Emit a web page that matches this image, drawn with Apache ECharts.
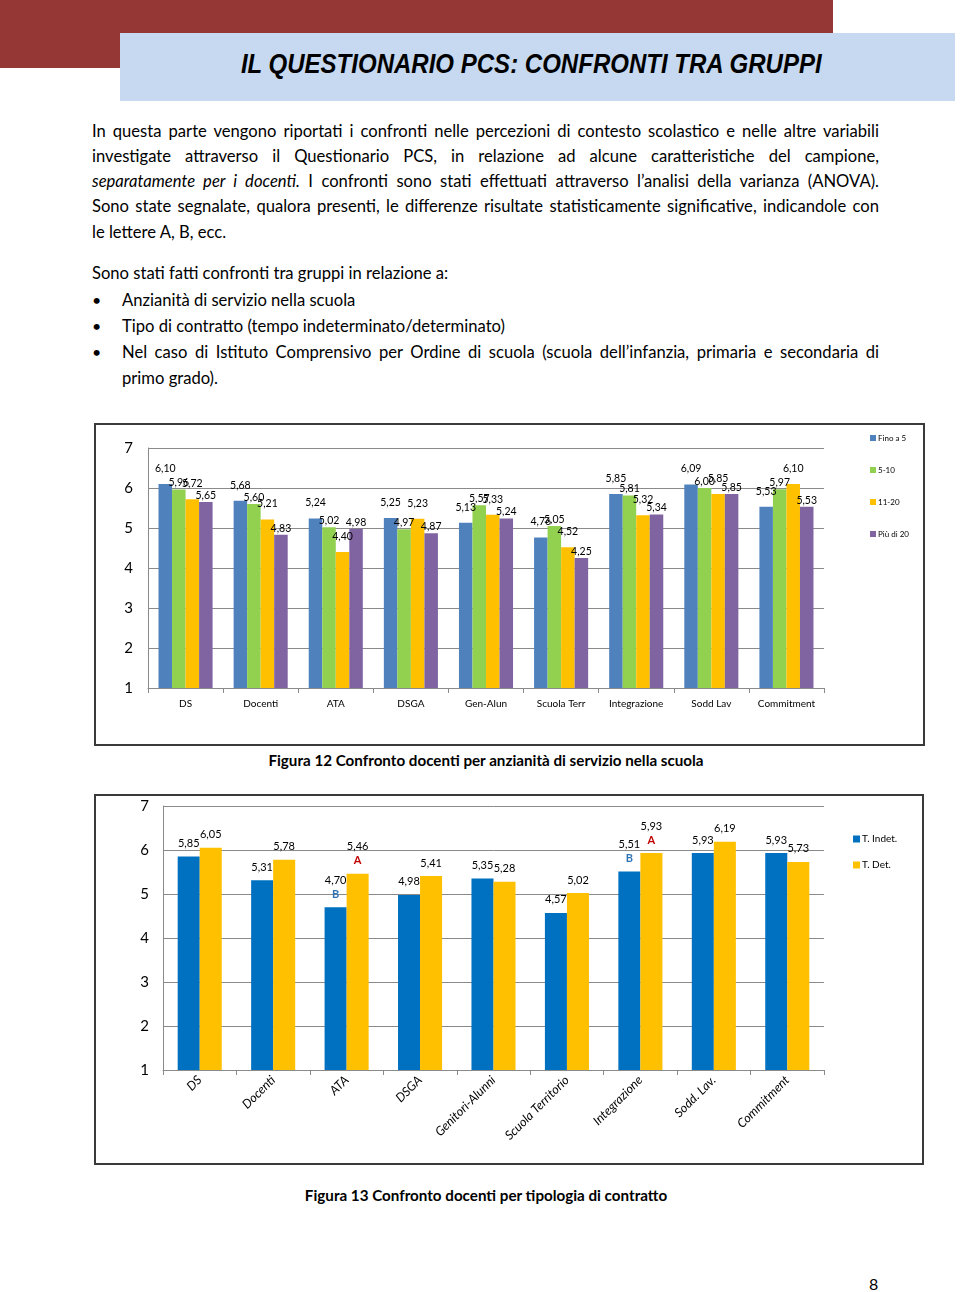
<!DOCTYPE html>
<html>
<head>
<meta charset="utf-8">
<script src="https://cdn.jsdelivr.net/npm/echarts@6/dist/echarts.min.js"></script>
<style>
  html, body { margin:0; padding:0; background:#fff; }
  body { width:960px; height:1292px; position:relative; overflow:hidden; font-family: Lato, "Liberation Sans", sans-serif; color:#000; }
  .abs { position:absolute; }
  #red { left:0; top:0; width:833px; height:68px; background:#953735; }
  #bluebox { left:120px; top:33px; width:835px; height:68px; background:#c6d9f1; }
  #title { left:120px; top:30px; width:822px; height:68px; line-height:68px; text-align:center; }
  #title span { display:inline-block; transform:scaleX(0.89); transform-origin:center;
    font-family:"Liberation Sans Narrow","Liberation Sans",Arial,sans-serif; font-weight:bold; font-style:italic; font-size:27px; color:#000; }
  .line { position:absolute; left:92px; width:787px; font-size:16.6px; white-space:nowrap; line-height:25px; height:25px; }
  .just { text-align:justify; text-align-last:justify; }
  .bul { position:absolute; left:92px; font-size:16px; line-height:26px; }
  .btext { position:absolute; left:122px; width:757px; font-size:16.6px; white-space:nowrap; line-height:26px; height:26px; }
  .chartbox { position:absolute; box-sizing:border-box; border:2px solid #3a3a3a; }
  .caption { position:absolute; left:0; width:972px; text-align:center; font-weight:bold; font-size:15.2px; }
</style>
</head>
<body>
<div id="red" class="abs"></div>
<div id="bluebox" class="abs"></div>
<div id="title" class="abs"><span>IL QUESTIONARIO PCS: CONFRONTI TRA GRUPPI</span></div>

<div class="line just" style="top:119px">In questa parte vengono riportati i confronti nelle percezioni di contesto scolastico e nelle altre variabili</div>
<div class="line just" style="top:144px">investigate attraverso il Questionario PCS, in relazione ad alcune caratteristiche del campione,</div>
<div class="line just" style="top:169px"><i>separatamente per i docenti.</i> I confronti sono stati effettuati attraverso l’analisi della varianza (ANOVA).</div>
<div class="line just" style="top:194px">Sono state segnalate, qualora presenti, le differenze risultate statisticamente significative, indicandole con</div>
<div class="line" style="top:220px">le lettere A, B, ecc.</div>

<div class="line" style="top:261px">Sono stati fatti confronti tra gruppi in relazione a:</div>
<div class="bul" style="top:287px">•</div><div class="btext" style="top:287px">Anzianità di servizio nella scuola</div>
<div class="bul" style="top:313px">•</div><div class="btext" style="top:313px">Tipo di contratto (tempo indeterminato/determinato)</div>
<div class="bul" style="top:339px">•</div><div class="btext just" style="top:339px">Nel caso di Istituto Comprensivo per Ordine di scuola (scuola dell’infanzia, primaria e secondaria di</div>
<div class="btext" style="top:365px">primo grado).</div>

<div class="chartbox" style="left:94px; top:423px; width:831px; height:323px;"></div>
<div id="c1" class="abs" style="left:95px; top:424px; width:829px; height:321px;"></div>
<div class="caption" style="top:751px">Figura 12 Confronto docenti per anzianità di servizio nella scuola</div>

<div class="chartbox" style="left:94px; top:794px; width:830px; height:371px;"></div>
<div id="c2" class="abs" style="left:95px; top:795px; width:828px; height:369px;"></div>
<div class="caption" style="top:1186px">Figura 13 Confronto docenti per tipologia di contratto</div>

<div class="abs" style="left:869px; top:1274px; font-size:16px;">8</div>

<script>
// ---- Chart 1 data ----
const categories1 = ['DS','Docenti','ATA','DSGA','Gen-Alun','Scuola Terr','Integrazione','Sodd Lav','Commitment'];
const seriesNames1 = ['Fino a 5','5-10','11-20','Più di 20'];
const fino5   = [6.10, 5.68, 5.24, 5.25, 5.13, 4.76, 5.85, 6.09, 5.53];
const da5a10  = [5.96, 5.60, 5.02, 4.97, 5.57, 5.05, 5.81, 6.00, 5.97];
const da11a20 = [5.72, 5.21, 4.40, 5.23, 5.33, 4.52, 5.32, 5.85, 6.10];
const piuDi20 = [5.65, 4.83, 4.98, 4.87, 5.24, 4.25, 5.34, 5.85, 5.53];
const yTicks = [1, 2, 3, 4, 5, 6, 7];

// ---- Chart 2 data ----
const categories2 = ['DS','Docenti','ATA','DSGA','Genitori-Alunni','Scuola Territorio','Integrazione','Sodd. Lav.','Commitment'];
const seriesNames2 = ['T. Indet.','T. Det.'];
const tIndet = [5.85, 5.31, 4.70, 4.98, 5.35, 4.57, 5.51, 5.93, 5.93];
const tDet   = [6.05, 5.78, 5.46, 5.41, 5.28, 5.02, 5.93, 6.19, 5.73];
const sigIndet = ['', '', 'B', '', '', '', 'B', '', ''];
const sigDet   = ['', '', 'A', '', '', '', 'A', '', ''];

const FONT = 'Lato, "Liberation Sans", sans-serif';
const fmt = v => v.toFixed(2).replace('.', ',');
const gridColor = '#8a8a8a';

const colors1 = ['#4f81bd', '#92d050', '#ffc000', '#8064a2'];
const data1 = [fino5, da5a10, da11a20, piuDi20];
const labelDist1 = [10, 1, 10, 1];

const c1 = echarts.init(document.getElementById('c1'));
c1.setOption({
  animation: false,
  textStyle: { fontFamily: FONT },
  grid: { left: 53, right: 100, top: 24, bottom: 57 },
  legend: {
    orient: 'vertical', left: 770, top: 5, itemWidth: 6, itemHeight: 6, itemGap: 24,
    icon: 'rect', textStyle: { fontSize: 8, color: '#000', fontFamily: FONT, padding: [0,0,0,-3] },
    data: seriesNames1
  },
  xAxis: {
    type: 'category', data: categories1,
    axisLine: { lineStyle: { color: gridColor } },
    axisTick: { show: true, length: 5, lineStyle: { color: gridColor } },
    axisLabel: { fontSize: 10, color: '#000', margin: 11, fontFamily: FONT }
  },
  yAxis: {
    type: 'value', min: yTicks[0], max: yTicks[yTicks.length-1], interval: 1,
    axisLine: { show: true, lineStyle: { color: gridColor } },
    axisTick: { show: false },
    splitLine: { lineStyle: { color: gridColor } },
    axisLabel: { fontSize: 15, color: '#000', margin: 15, fontFamily: FONT }
  },
  series: seriesNames1.map((n, i) => ({
    name: n, type: 'bar', data: data1[i], barGap: '0%', barCategoryGap: '28%',
    itemStyle: { color: colors1[i] },
    label: { show: true, position: 'top', distance: labelDist1[i], fontSize: 10.5, color: '#000', fontFamily: FONT,
      formatter: p => fmt(p.value) }
  }))
});

const c2 = echarts.init(document.getElementById('c2'));
function labelFmt(sig) {
  return p => {
    const s = sig[p.dataIndex];
    return s ? '{v|' + fmt(p.value) + '}\n{' + (s === 'A' ? 'a' : 'b') + '|' + s + '}' : '{v|' + fmt(p.value) + '}';
  };
}
const rich = {
  v: { fontSize: 11, color: '#000', fontFamily: FONT, lineHeight: 14 },
  a: { fontSize: 11, color: '#c00000', fontWeight: 'bold', fontFamily: FONT, lineHeight: 14 },
  b: { fontSize: 11, color: '#2e74b5', fontWeight: 'bold', fontFamily: FONT, lineHeight: 14 }
};
c2.setOption({
  animation: false,
  textStyle: { fontFamily: FONT },
  grid: { left: 68, right: 99, top: 11, bottom: 94 },
  legend: {
    orient: 'vertical', left: 753, top: 34, itemWidth: 7, itemHeight: 7, itemGap: 16,
    icon: 'rect', textStyle: { fontSize: 10, color: '#000', fontFamily: FONT, padding: [0,0,0,-3] },
    data: seriesNames2
  },
  xAxis: {
    type: 'category', data: categories2,
    axisLine: { lineStyle: { color: gridColor } },
    axisTick: { show: true, length: 5, lineStyle: { color: gridColor } },
    axisLabel: { fontSize: 12.5, color: '#000', rotate: 45, margin: 8, fontStyle: 'italic', fontFamily: FONT }
  },
  yAxis: {
    type: 'value', min: yTicks[0], max: yTicks[yTicks.length-1], interval: 1,
    axisLine: { show: true, lineStyle: { color: gridColor } },
    axisTick: { show: false },
    splitLine: { lineStyle: { color: gridColor } },
    axisLabel: { fontSize: 15, color: '#000', margin: 14, fontFamily: FONT }
  },
  series: [
    { name: seriesNames2[0], type: 'bar', data: tIndet, barGap: '0%', barCategoryGap: '40%',
      itemStyle: { color: '#0070c0' },
      label: { show: true, position: 'top', distance: 6, formatter: labelFmt(sigIndet), rich: rich } },
    { name: seriesNames2[1], type: 'bar', data: tDet, barGap: '0%', barCategoryGap: '40%',
      itemStyle: { color: '#ffc000' },
      label: { show: true, position: 'top', distance: 6, formatter: labelFmt(sigDet), rich: rich } }
  ]
});
</script>
</body>
</html>
